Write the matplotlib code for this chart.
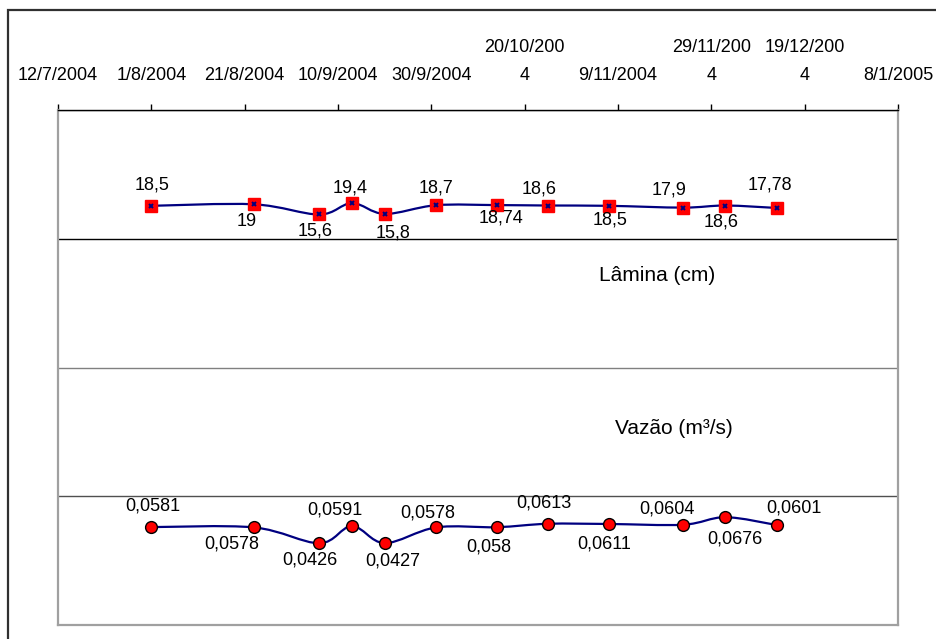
"""
Lâmina (cm) e Vazão (m³/s) ao longo do tempo, estilo gráfico Excel.
"""

import matplotlib
matplotlib.use("Agg")
import matplotlib.pyplot as plt
import matplotlib.dates as mdates
from matplotlib.path import Path
from matplotlib.patches import PathPatch, Rectangle
from matplotlib.ticker import LinearLocator
import numpy as np
import pandas as pd

plt.rcParams["font.family"] = ["Liberation Sans", "DejaVu Sans"]

# ---------------------------------------------------------------------------
# Data
# ---------------------------------------------------------------------------
sample_dates = ["2004-08-01", "2004-08-23", "2004-09-06", "2004-09-13",
                "2004-09-20", "2004-10-01", "2004-10-14", "2004-10-25",
                "2004-11-07", "2004-11-23", "2004-12-02", "2004-12-13"]
lamina_cm = [18.5, 19, 15.6, 19.4, 15.8, 18.7, 18.74, 18.6, 18.5, 17.9, 18.6, 17.78]
vazao_m3s = [0.0581, 0.0578, 0.0426, 0.0591, 0.0427, 0.0578, 0.058, 0.0613,
             0.0611, 0.0604, 0.0676, 0.0601]

tick_dates = ["2004-07-12", "2004-08-01", "2004-08-21", "2004-09-10", "2004-09-30",
              "2004-10-20", "2004-11-09", "2004-11-29", "2004-12-19", "2005-01-08"]
tick_labels = ["12/7/2004", "1/8/2004", "21/8/2004", "10/9/2004", "30/9/2004",
               "20/10/200\n4", "9/11/2004", "29/11/200\n4", "19/12/200\n4", "8/1/2005"]

# label offsets (pixels) for the data labels
lamina_offsets = [(1, 21), (-7, -17), (-4, -17), (-2, 15), (8, -19), (0, 17),
                  (4, -13), (-9, 17), (1, -14), (-14, 18), (-4, -16), (-7, 23)]
vazao_offsets = [(1, 21), (-22, -17), (-9, -17), (-17, 16), (8, -18), (-8, 14),
                 (-8, -20), (-4, 21), (-4, -20), (-16, 16), (10, -22), (17, 17)]

LINE_COLOR = "#000080"


def smooth_path(x, y):
    """Excel-like smoothed line: Catmull-Rom segments as cubic Beziers."""
    x = np.asarray(x, float)
    y = np.asarray(y, float)
    n = len(x)
    verts = [(x[0], y[0])]
    codes = [Path.MOVETO]
    for i in range(n - 1):
        i0 = max(i - 1, 0)
        i3 = min(i + 2, n - 1)
        c1 = (x[i] + (x[i + 1] - x[i0]) / 6, y[i] + (y[i + 1] - y[i0]) / 6)
        c2 = (x[i + 1] - (x[i3] - x[i]) / 6, y[i + 1] - (y[i3] - y[i]) / 6)
        verts += [c1, c2, (x[i + 1], y[i + 1])]
        codes += [Path.CURVE4] * 3
    return Path(verts, codes)


def fmt(v):
    return f"{v:g}".replace(".", ",")


dates = pd.to_datetime(sample_dates)
xnum = mdates.date2num(dates)
ticks = mdates.date2num(pd.to_datetime(tick_dates))

W, H = 937, 639
fig = plt.figure(figsize=(W / 100, H / 100), dpi=100)
fig.patch.set_facecolor("white")

# outer chart frame (runs off the right/bottom edge)
fig.patches.append(Rectangle((8 / W, -0.1), 1.2, 1.1 - 10.5 / H,
                             transform=fig.transFigure, fill=False,
                             ec="#303030", lw=1.6))

ax = fig.add_axes([58 / W, (H - 625) / H, 840 / W, 515 / H])
ax2 = ax.twinx()

# x axis on top
ax.set_xlim(ticks[0], ticks[-1])
ax.xaxis.tick_top()
ax.set_xticks(ticks)
ax.set_xticklabels(tick_labels, fontsize=13)
for t in ax.get_xticklabels():
    t.set_linespacing(1.85)
ax.tick_params(axis="x", direction="out", length=4, width=1, color="black", pad=14.5)

# y axes hidden, gridlines kept
ax.set_ylim(-121.5, 50.5)
ax2.set_ylim(-0.036, 0.459)
ax.yaxis.set_major_locator(LinearLocator(5))
ax.tick_params(axis="y", left=False, labelleft=False)
ax.grid(axis="y", color="#555555", lw=1)
grid_cols = ["#555555", "#505050", "#808080", "black", "#555555"]
for gl, c in zip(ax.get_ygridlines(), grid_cols):
    gl.set_color(c)
ax2.yaxis.set_visible(False)
for s in ax2.spines.values():
    s.set_visible(False)

for side in ["left", "right", "bottom"]:
    ax.spines[side].set_color("#a0a0a0")
    ax.spines[side].set_linewidth(1.6)
ax.spines["top"].set_color("black")
ax.spines["top"].set_linewidth(1)

# Lâmina series
ax.add_patch(PathPatch(smooth_path(xnum, lamina_cm), fill=False,
                       ec=LINE_COLOR, lw=1.6, zorder=3))
ax.plot(xnum, lamina_cm, ls="none", marker="s", ms=8.5, mfc="red", mec="red", zorder=4)
ax.plot(xnum, lamina_cm, ls="none", marker="x", ms=3.5, mec=LINE_COLOR, mew=1.4, zorder=5)
for xv, v, (dx, dy) in zip(xnum, lamina_cm, lamina_offsets):
    ax.annotate(fmt(v), (xv, v), xytext=(dx, dy), textcoords="offset pixels",
                ha="center", va="center", fontsize=13, zorder=6)

# Vazão series
ax2.add_patch(PathPatch(smooth_path(xnum, vazao_m3s), fill=False,
                        ec=LINE_COLOR, lw=1.6, zorder=3))
ax2.plot(xnum, vazao_m3s, ls="none", marker="o", ms=8.5, mfc="red", mec="black",
         mew=1, zorder=4)
for xv, v, (dx, dy) in zip(xnum, vazao_m3s, vazao_offsets):
    ax2.annotate(fmt(v), (xv, v), xytext=(dx, dy), textcoords="offset pixels",
                 ha="center", va="center", fontsize=13, zorder=6)

# series captions
ax.text(0.713, 0.678, "Lâmina (cm)", transform=ax.transAxes, ha="center",
        va="center", fontsize=15)
ax.text(0.733, 0.382, "Vazão (m³/s)", transform=ax.transAxes, ha="center",
        va="center", fontsize=15)

fig.savefig("out.png", dpi=100, facecolor="white")
